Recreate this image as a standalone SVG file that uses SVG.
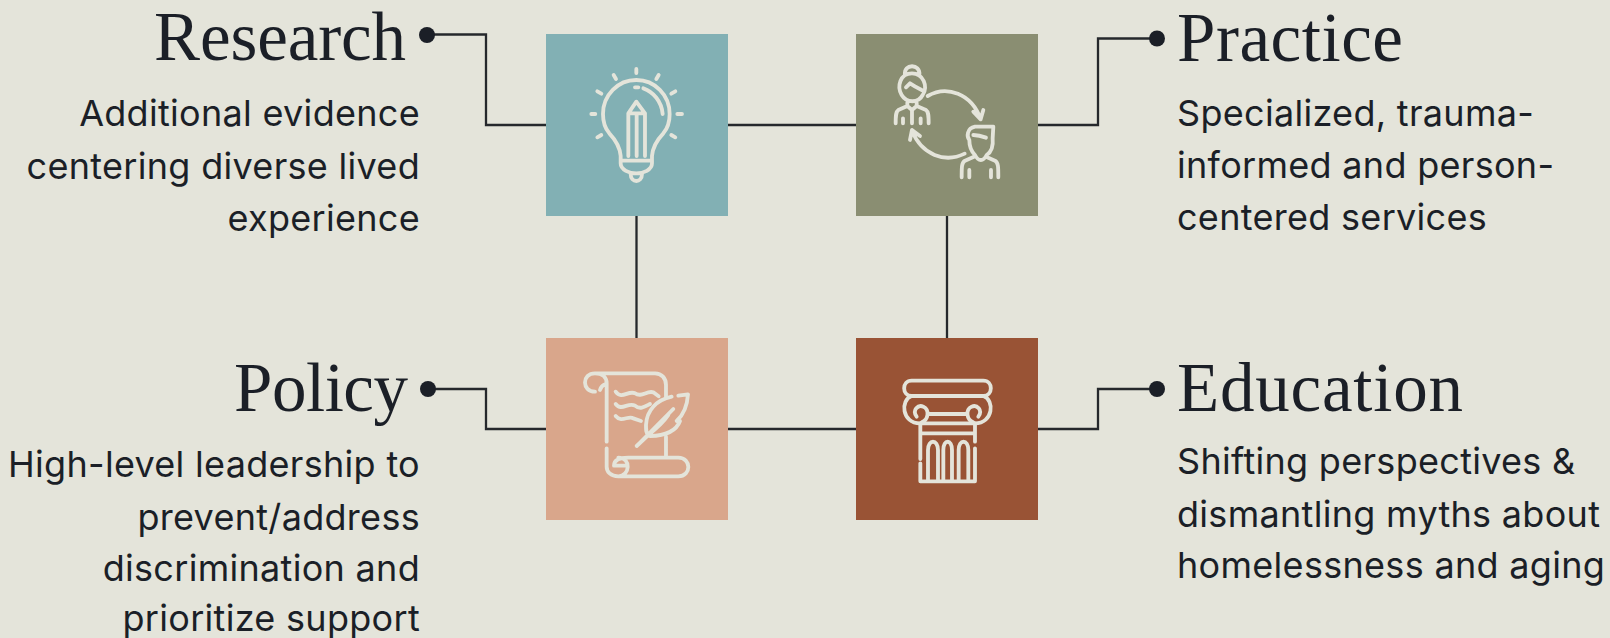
<svg xmlns="http://www.w3.org/2000/svg" width="1610" height="638" viewBox="0 0 1610 638">
<style>
.h{font-family:"Liberation Serif",serif;font-size:69px;fill:#1b1f27}
.b{font-family:"Inter","Liberation Sans",sans-serif;font-size:36px;letter-spacing:.3px;fill:#1b1f27}
.r{text-anchor:end}
.c{fill:none;stroke:#25282c;stroke-width:2.3}
.i{fill:none;stroke:#e4e4da;stroke-width:11.5;stroke-linecap:round;stroke-linejoin:round}
.d{fill:#1b1f27}
</style>
<rect width="1610" height="638" fill="#e4e4da"/>
<g id="connectors">
<path class="c" d="M427 34.5H486V125H546M728 125H856M1038 125H1098V38.500H1157M636.500 216V338M947 216V338M428 389H486V429H546M728 429H856M1038 429H1098V389H1157"/>
<circle class="d" cx="427" cy="35" r="8"/><circle class="d" cx="1157" cy="38.500" r="8"/><circle class="d" cx="428" cy="389" r="8"/><circle class="d" cx="1157" cy="389" r="8"/>
</g>
<g id="research">
<rect x="546" y="34" width="182" height="182" fill="#82b0b4"/>
<g class="i" transform="translate(540 30) scale(.3333)">
<path d="M289 117V129M221 135L228 147M356 135L349 147M172 184L184 191M406 184L394 191M154 252H166M412 252H426M172 322L184 315M406 322L394 315"/>
<path d="M242 378C240 350 225 328 208 310C195 295 189 275 189 252C189 195 234 150 289 150C344 150 389 195 389 252C389 275 383 295 370 310C353 328 338 350 336 378V400C336 420 310 430 289 430C268 430 242 420 242 400ZM242 392H336M272 432C272 460 306 460 306 432M285 172H295M310 175C340 185 365 215 368 252"/>
<path d="M265 250L289 215L315 250V378M265 250V378M290 250V378M265 250H315"/>
</g>
</g>
<g id="practice">
<rect x="856" y="34" width="182" height="182" fill="#8a8e72"/>
<g class="i" transform="translate(850 30) scale(.3333)">
<path d="M165 135C160 100 212 100 208 135M186 130C150 130 140 170 155 195C170 220 205 220 218 195C235 170 220 130 186 130ZM168 172L180 160C195 170 205 175 215 180M172 218V228L186 240L200 228V218M172 228L145 240C138 245 137 255 137 280M200 228L228 240C235 245 236 255 236 280M186 240V280M159 265V280M212 265V280"/>
<path d="M233 198C290 165 365 190 392 268M370 245L392 268L400 240M344 371C285 400 215 375 186 302M180 330L186 300L210 318"/>
<path d="M430 290H375C350 295 350 320 358 330C358 350 365 365 375 375C385 395 400 395 410 375C425 365 430 345 428 325ZM370 315C385 315 395 318 408 323M372 380L345 392C335 398 335 410 335 442M408 380L435 392C445 398 445 410 445 442M358 420V442M423 420V442"/>
</g>
</g>
<g id="policy">
<rect x="546" y="338" width="182" height="182" fill="#d9a68b"/>
<g class="i" transform="translate(540 335) scale(.3333)">
<path d="M165 170C125 170 125 115 165 115H345C365 115 378 130 378 150V185M165 115C190 115 200 130 200 145V320M200 340V395C200 410 212 424 235 424H415C455 424 455 368 415 368H265M378 305V368M180 165C183 155 188 150 195 148M265 368C255 368 222 368 222 392H255M235 424C270 424 275 368 235 368"/>
<path d="M227 170C245 195 265 165 285 175C305 190 320 165 340 172L356 184M227 207C245 230 265 200 285 212C300 225 315 215 330 207M227 243C245 265 265 240 280 250L303 258"/>
<path d="M290 333L400 222M395 185C350 195 320 225 318 270C318 285 318 295 325 300L290 333M415 182L444 178C442 210 435 235 410 258H420C410 285 385 302 330 303M325 300C350 280 375 255 385 240"/>
</g>
</g>
<g id="education">
<rect x="856" y="338" width="182" height="182" fill="#995335"/>
<g class="i" transform="translate(850 335) scale(.3333)">
<path d="M185 137H400C430 137 430 183 400 183H185C155 183 155 137 185 137ZM185 183C150 195 155 265 210 265H375C430 265 435 195 400 183"/>
<path d="M200 245C185 225 205 208 220 215C240 225 235 255 215 262M385 245C400 225 380 208 365 215C345 225 350 255 370 262M235 237H350"/>
<path d="M211 265V372M375 265V320M375 340V439H211V385M211 295H375M234 439V345C234 312 264 312 264 345V439M280 439V345C280 312 306 312 306 345V439M326 439V345C326 312 355 312 355 345V439"/>
</g>
</g>
<g id="t-research">
<text class="h r" x="406" y="60" textLength="252">Research</text>
<text class="b r" x="420" y="126">Additional evidence</text>
<text class="b r" x="420" y="179">centering diverse lived</text>
<text class="b r" x="420" y="231">experience</text>
</g>
<g id="t-practice">
<text class="h" x="1177" y="61" textLength="226">Practice</text>
<text class="b" x="1177" y="126">Specialized, trauma-</text>
<text class="b" x="1177" y="178">informed and person-</text>
<text class="b" x="1177" y="230">centered services</text>
</g>
<g id="t-policy">
<text class="h r" x="408" y="411" textLength="174">Policy</text>
<text class="b r" x="420" y="477">High-level leadership to</text>
<text class="b r" x="420" y="530">prevent/address</text>
<text class="b r" x="420" y="581">discrimination and</text>
<text class="b r" x="420" y="631">prioritize support</text>
</g>
<g id="t-education">
<text class="h" x="1177" y="411" textLength="286">Education</text>
<text class="b" x="1177" y="474">Shifting perspectives &amp;</text>
<text class="b" x="1177" y="527">dismantling myths about</text>
<text class="b" x="1177" y="578">homelessness and aging</text>
</g>
</svg>
